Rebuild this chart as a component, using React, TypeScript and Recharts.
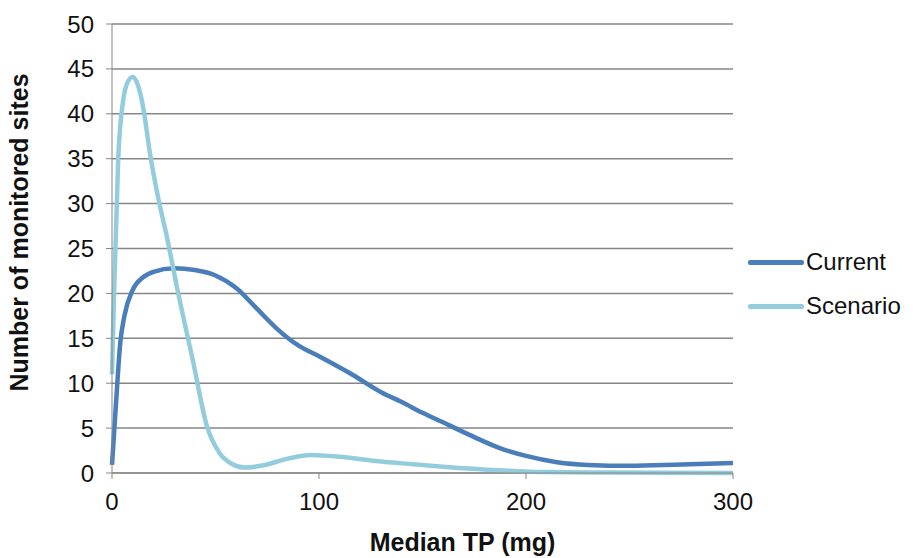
import { LineChart, Line, XAxis, YAxis, CartesianGrid, Legend } from "recharts";

const currentX = [0, 2, 4, 6, 10, 15, 20, 30, 40, 50, 60, 70, 80, 90, 100, 115, 130, 140, 150, 163, 175, 187, 200, 215, 230, 250, 275, 300];
const currentY = [0.9, 8, 14.5, 17.5, 20.4, 21.8, 22.4, 22.8, 22.6, 22.0, 20.6, 18.3, 16.0, 14.2, 13.0, 11.1, 9.0, 7.9, 6.7, 5.3, 4.0, 2.8, 1.9, 1.2, 0.9, 0.8, 0.95, 1.1];

const scenarioX = [0, 1, 3, 5.4, 7.5, 10, 12.5, 15, 18.4, 22, 26.5, 32, 39, 46, 52, 58, 64, 72, 85, 96, 110, 125, 139, 160, 187, 210, 240, 270, 300];
const scenarioY = [11, 20, 35, 41.5, 43.5, 44.1, 43.2, 40.8, 35.5, 31, 26.3, 20, 12.6, 5.1, 2.2, 1.0, 0.6, 0.8, 1.6, 2.0, 1.8, 1.4, 1.1, 0.7, 0.3, 0.1, 0.05, 0.02, 0];

const xTicks = [0, 100, 200, 300];
const yTicks = [0, 5, 10, 15, 20, 25, 30, 35, 40, 45, 50];

const currentData = currentX.map((x, i) => ({ x, y: currentY[i] }));
const scenarioData = scenarioX.map((x, i) => ({ x, y: scenarioY[i] }));

const font = "'Liberation Sans', Arial, sans-serif";

function LegendBox() {
  const items = [
    { name: "Current", color: "#4a7ebb" },
    { name: "Scenario", color: "#93cddd" },
  ];
  return (
    <div style={{ fontFamily: font, fontSize: 24, color: "#111" }}>
      {items.map((it) => (
        <div key={it.name} style={{ display: "flex", alignItems: "center", height: 44 }}>
          <div style={{ width: 56, height: 5, background: it.color, borderRadius: 2, marginRight: 2 }} />
          <span>{it.name}</span>
        </div>
      ))}
    </div>
  );
}

export default function App() {
  return (
    <div style={{ position: "absolute", left: 0, top: 0, background: "#fff" }}>
      <LineChart width={915} height={558} margin={{ top: 24, right: 182, bottom: 0, left: 0 }}>
        <CartesianGrid vertical={false} stroke="#868686" strokeWidth={1.5} />
        <XAxis
          type="number"
          dataKey="x"
          domain={[0, 300]}
          ticks={xTicks}
          height={85}
          tickSize={6}
          stroke="#868686"
          tick={{ fill: "#111", fontSize: 24, fontFamily: font, dy: 12 }}
          label={{ value: "Median TP (mg)", position: "insideBottom", dx: 40, dy: -2, fill: "#111", fontSize: 25, fontWeight: "bold", fontFamily: font }}
        />
        <YAxis
          type="number"
          domain={[0, 50]}
          ticks={yTicks}
          width={112}
          tickSize={6}
          stroke="#868686"
          tick={{ fill: "#111", fontSize: 24, fontFamily: font, dx: -10 }}
          label={{ value: "Number of monitored sites", angle: -90, position: "insideLeft", dx: 14, dy: -16, fill: "#111", fontSize: 25, fontWeight: "bold", fontFamily: font, style: { textAnchor: "middle" } }}
        />
        <Legend
          layout="vertical"
          align="center"
          verticalAlign="middle"
          wrapperStyle={{ left: 748, top: 240, width: 170 }}
          content={() => <LegendBox />}
        />
        <Line data={currentData} dataKey="y" name="Current" type="monotone" stroke="#4a7ebb" strokeWidth={4.5} dot={false} isAnimationActive={false} />
        <Line data={scenarioData} dataKey="y" name="Scenario" type="monotone" stroke="#93cddd" strokeWidth={4.5} dot={false} isAnimationActive={false} />
      </LineChart>
    </div>
  );
}
